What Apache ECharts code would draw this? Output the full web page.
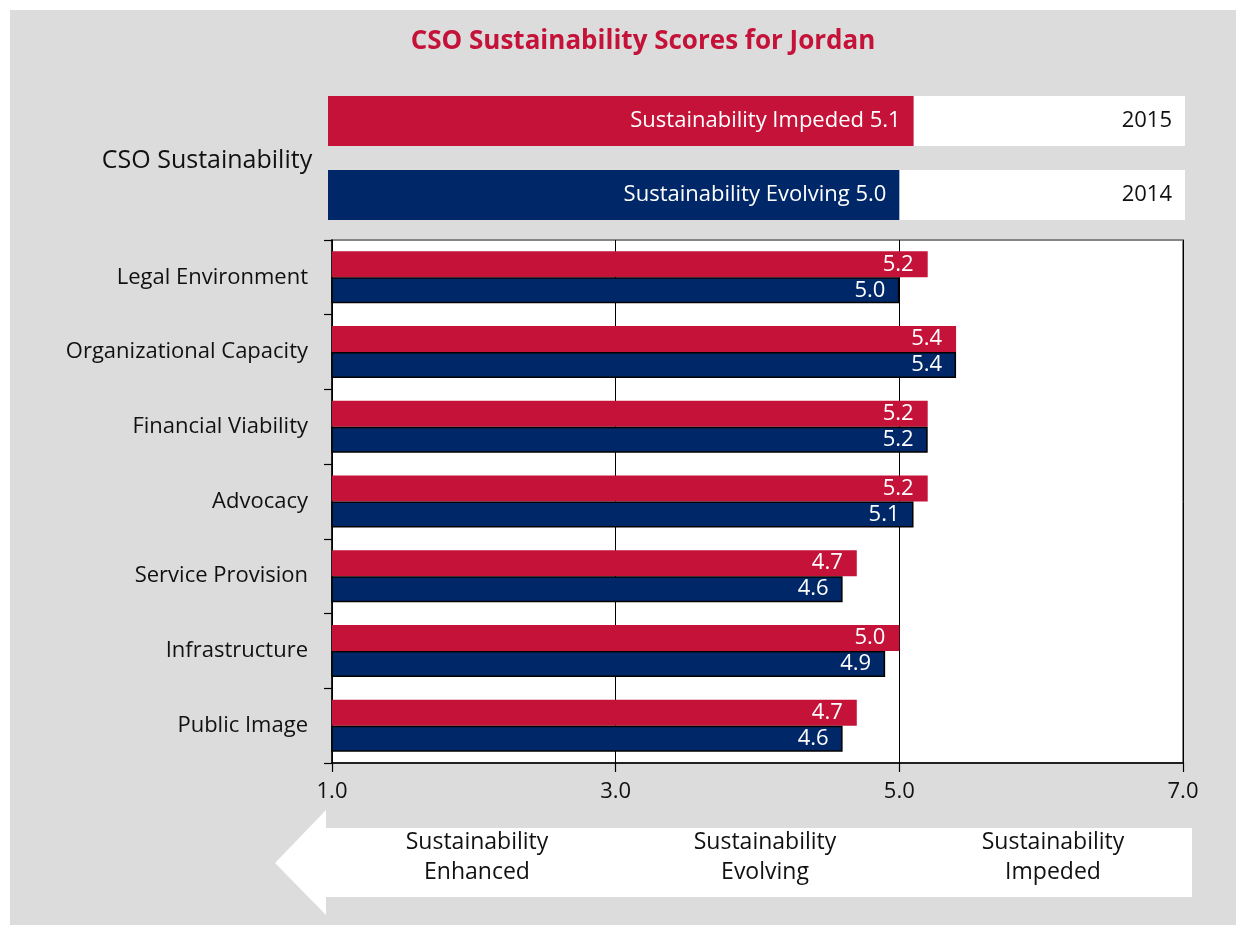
<!DOCTYPE html>
<html>
<head>
<meta charset="utf-8">
<script src="https://cdn.jsdelivr.net/npm/echarts@6/dist/echarts.min.js"></script>
<style>
html,body{margin:0;padding:0;background:#fff;}
#chart{width:1236px;height:926px;}
</style>
</head>
<body>
<div id="chart"></div>
<script>
// ---- data ----
const title = 'CSO Sustainability Scores for Jordan';
const categories = ['Legal Environment','Organizational Capacity','Financial Viability','Advocacy','Service Provision','Infrastructure','Public Image'];
const scores2015 = [5.2, 5.4, 5.2, 5.2, 4.7, 5.0, 4.7];
const scores2014 = [5.0, 5.4, 5.2, 5.1, 4.6, 4.9, 4.6];
const overallYears = ['2015', '2014'];
const overallScores = [5.1, 5.0];
const overallStatus = ['Sustainability Impeded', 'Sustainability Evolving'];
const overallLabel = 'CSO Sustainability';
const scaleLabels = ['Sustainability\nEnhanced', 'Sustainability\nEvolving', 'Sustainability\nImpeded'];

const RED = '#C41239';
const BLUE = '#002868';
const FONT = 'Open Sans';
const FS = 22;

const chart = echarts.init(document.getElementById('chart'), null, {renderer: 'canvas'});

const option = {
  backgroundColor: '#ffffff',
  animation: false,
  textStyle: {fontFamily: FONT},
  title: {
    text: title,
    left: 638,
    textAlign: 'center',
    top: 24,
    textStyle: {color: RED, fontSize: 26, fontWeight: 'bold', fontFamily: FONT}
  },
  graphic: [
    {type: 'rect', z: -10, shape: {x: 10, y: 10, width: 1226, height: 915}, style: {fill: '#DCDCDC'}},
    {type: 'polygon', z: -5, shape: {points: [[275,863],[326,810],[326,828],[1192,828],[1192,897],[326,897],[326,915]]}, style: {fill: '#ffffff'}},
    {type: 'text', x: 207, y: 161, style: {text: overallLabel, fill: '#111', font: '25px "' + FONT + '"', textAlign: 'center', textVerticalAlign: 'middle'}},
    {type: 'text', x: 477, y: 857, style: {text: scaleLabels[0], fill: '#111', font: '23px "' + FONT + '"', textAlign: 'center', textVerticalAlign: 'middle', lineHeight: 30}},
    {type: 'text', x: 765, y: 857, style: {text: scaleLabels[1], fill: '#111', font: '23px "' + FONT + '"', textAlign: 'center', textVerticalAlign: 'middle', lineHeight: 30}},
    {type: 'text', x: 1053, y: 857, style: {text: scaleLabels[2], fill: '#111', font: '23px "' + FONT + '"', textAlign: 'center', textVerticalAlign: 'middle', lineHeight: 30}}
  ],
  grid: [
    {left: 332, right: 53, top: 240, bottom: 163, show: true, backgroundColor: '#ffffff', borderColor: '#858585', borderWidth: 2, containLabel: false},
    {left: 328, right: 51, top: 84, height: 148, show: false, containLabel: false}
  ],
  xAxis: [
    {
      type: 'value', gridIndex: 0, min: 1, max: 7, interval: 2,
      axisLine: {show: true, lineStyle: {color: '#000', width: 1.5}},
      axisTick: {show: true, length: 9, lineStyle: {color: '#000', width: 1.2}},
      axisLabel: {margin: 18, fontSize: FS, color: '#111', fontFamily: FONT, formatter: v => v.toFixed(1)},
      splitLine: {show: true, lineStyle: {color: '#000', width: 1}}
    },
    {
      type: 'value', gridIndex: 1, min: 1, max: 7, show: false
    }
  ],
  yAxis: [
    {
      type: 'category', gridIndex: 0, data: categories, inverse: true,
      axisLine: {show: true, lineStyle: {color: '#000', width: 1.5}},
      axisTick: {show: true, length: 8, lineStyle: {color: '#000', width: 1.2}},
      axisLabel: {margin: 24, fontSize: FS, color: '#111', fontFamily: FONT}
    },
    {
      type: 'category', gridIndex: 1, data: overallYears, inverse: true,
      axisLine: {show: false}, axisTick: {show: false},
      axisLabel: {show: false}
    },
    {
      type: 'category', gridIndex: 1, data: overallYears, inverse: true, position: 'right', z: 20,
      axisLine: {show: false}, axisTick: {show: false},
      axisLabel: {inside: true, margin: 13, fontSize: FS, color: '#111', fontFamily: FONT}
    }
  ],
  series: [
    {
      name: '2015', type: 'bar', xAxisIndex: 0, yAxisIndex: 0,
      data: scores2015, barWidth: 26, barGap: '0%',
      itemStyle: {color: RED},
      label: {show: true, position: 'insideRight', distance: 14, color: '#fff', fontSize: FS, fontFamily: FONT, formatter: p => p.value.toFixed(1)}
    },
    {
      name: '2014', type: 'bar', xAxisIndex: 0, yAxisIndex: 0,
      data: scores2014, barWidth: 26, barGap: '0%',
      itemStyle: {color: BLUE, borderColor: '#000', borderWidth: 1.5},
      label: {show: true, position: 'insideRight', distance: 14, color: '#fff', fontSize: FS, fontFamily: FONT, formatter: p => p.value.toFixed(1)}
    },
    {
      name: overallLabel, type: 'bar', xAxisIndex: 1, yAxisIndex: 1,
      barWidth: 50, z: 1,
      showBackground: true, backgroundStyle: {color: '#ffffff'},
      data: overallScores.map((v, i) => ({value: v, itemStyle: {color: i === 0 ? RED : BLUE}})),
      label: {show: true, position: 'insideRight', distance: 13, color: '#fff', fontSize: FS, fontFamily: FONT,
        formatter: p => overallStatus[p.dataIndex] + ' ' + p.value.toFixed(1)}
    }
  ]
};
chart.setOption(option);
</script>
</body>
</html>
